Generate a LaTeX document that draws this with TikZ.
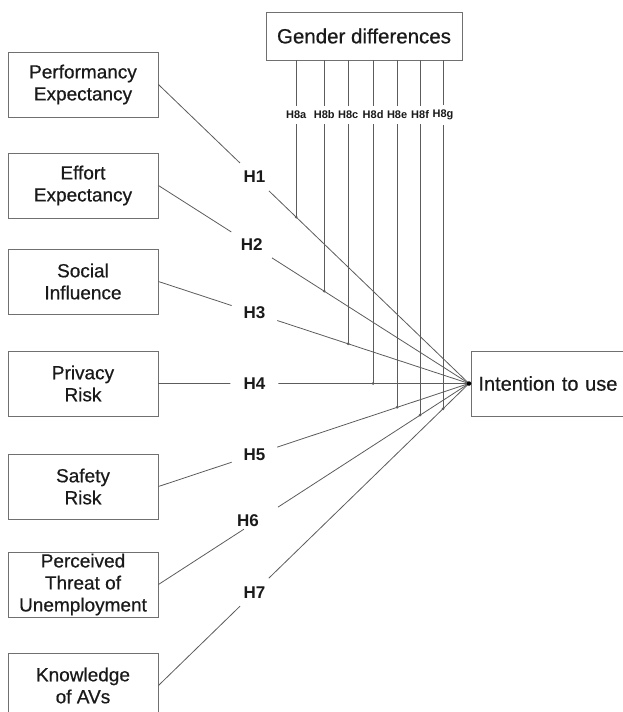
\documentclass[tikz,border=0pt]{standalone}
\usepackage{fontspec}
\setmainfont{Liberation Sans}
\newfontfamily\medfont[FakeBold=0.6]{Liberation Sans}
\usetikzlibrary{calc}
\definecolor{linec}{HTML}{5C5C5C}
\definecolor{boxc}{HTML}{707070}
\definecolor{txt}{HTML}{1A1A1A}
\begin{document}
\begin{tikzpicture}[x=1pt,y=-1pt,
  cbox/.style={draw=boxc, line width=0.9pt, minimum width=150pt, minimum height=65pt,
    align=center, text=txt, font=\medfont\fontsize{19}{22}\selectfont, inner sep=0pt},
  conn/.style={draw=linec, line width=0.8pt},
  hlab/.style={circle, fill=white, text=txt, font=\bfseries\fontsize{17}{20}\selectfont, inner sep=0pt, minimum size=48pt},
  hsub/.style={fill=white, text=txt, font=\bfseries\fontsize{11}{13}\selectfont, inner xsep=1pt, inner ysep=5pt},
  jdot/.style={circle, fill=linec, inner sep=0pt, minimum size=3pt}]
\useasboundingbox (0,0) rectangle (623,712);
% left boxes
\node[cbox] (pe) at (83,84.5) {Performancy\\Expectancy};
\node[cbox] (ee) at (83,185.5) {Effort\\Expectancy};
\node[cbox] (si) at (83,281.5) {Social\\Influence};
\node[cbox] (pr) at (83,383.5) {Privacy\\Risk};
\node[cbox] (sr) at (83,486.5) {Safety\\Risk};
\node[cbox] (pt) at (83,584.5) {Perceived\\Threat of\\Unemployment};
\node[cbox] (kn) at (83,685.5) {Knowledge\\of AVs};
% moderator and outcome
\node[cbox, minimum width=196pt, minimum height=48pt, font=\medfont\fontsize{20.5}{24}\selectfont] (gd) at (364,36) {Gender differences};
\node[cbox, anchor=west, minimum width=170pt, text width=156pt, inner xsep=7pt, align=left,
  font=\medfont\fontsize{20}{24}\selectfont] (iu) at (471,383.5) {Intention to use};
\coordinate (conv) at (469,383.5);
\coordinate (lab) at (0,115);
% dots on paths
\coordinate (d1) at ($(pe.east)!0.4437!(conv)$);
\coordinate (d2) at ($(ee.east)!0.5338!(conv)$);
\coordinate (d3) at ($(si.east)!0.6109!(conv)$);
\coordinate (d4) at ($(pr.east)!0.6913!(conv)$);
\coordinate (d5) at ($(sr.east)!0.7685!(conv)$);
\coordinate (d6) at ($(pt.east)!0.8424!(conv)$);
\coordinate (d7) at ($(kn.east)!0.9164!(conv)$);
% vertical moderator lines
\foreach \d in {d1,d2,d3,d4,d5,d6,d7}{
  \draw[conn] (\d |- gd.south) -- (\d);
  \node[jdot] at (\d) {};
}
% main paths
\draw[conn] (pe.east) -- (conv) node[hlab, minimum size=40pt, pos=0.309] (h1) {H1};
\draw[conn] (ee.east) -- (conv) node[hlab, pos=0.300] (h2) {H2};
\draw[conn] (si.east) -- (conv) node[hlab, pos=0.309] (h3) {H3};
\draw[conn] (pr.east) -- (conv) node[hlab, pos=0.309] (h4) {H4};
\draw[conn] (sr.east) -- (conv) node[hlab, pos=0.309] (h5) {H5};
\draw[conn] (pt.east) -- ($(pt.east)!0.275!(conv)$);
\draw[conn] ($(pt.east)!0.385!(conv)$) -- (conv);
\node[hlab, fill=none, minimum size=0pt] (h6) at (248,521) {H6};
\draw[conn] (kn.east) -- (conv) node[hlab, minimum size=40pt, pos=0.309] (h7) {H7};
\node[jdot, minimum size=4.5pt, fill=black] at (conv) {};
% sub labels
\node[hsub] at (d1 |- lab) {H8a};
\node[hsub] at (d2 |- lab) {H8b};
\node[hsub] at (d3 |- lab) {H8c};
\node[hsub] at (d4 |- lab) {H8d};
\node[hsub] at (d5 |- lab) {H8e};
\node[hsub] at (d6 |- lab) {H8f};
\node[hsub] at (d7 |- lab) {H8g};
\end{tikzpicture}
\end{document}
